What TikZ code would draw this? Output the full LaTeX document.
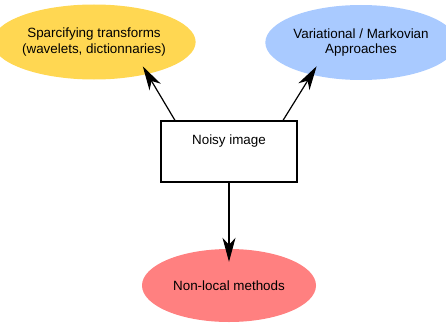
\documentclass[tikz,border=0pt]{standalone}
\usepackage{fontspec}
\setmainfont{Liberation Sans}
\usetikzlibrary{shapes.geometric,arrows.meta}
\definecolor{sparseyellow}{HTML}{FFD752}
\definecolor{variablue}{HTML}{A9CAFF}
\definecolor{nonlocred}{HTML}{FF8080}
\begin{document}
\begin{tikzpicture}[x=1pt,y=1pt,
  blob/.style={ellipse,inner sep=0pt,minimum height=75pt,align=center},
  arr/.style={-{Stealth[length=24pt,width=13pt,inset=7pt]},line width=1.2pt}]
\useasboundingbox (0,0) rectangle (446,322);
\fontsize{13.4}{15.7}\selectfont
% the three families of methods
\node[blob,fill=sparseyellow,minimum width=174pt] (sparse) at (94,280) {Sparcifying transforms\\(wavelets, dictionnaries)};
\node[blob,fill=variablue,minimum width=168pt] (varia) at (361,279.5) {Variational / Markovian\\Approaches};
\node[blob,fill=nonlocred,minimum width=174pt,minimum height=73pt] (nonloc) at (229,36.5) {Non-local methods};
% input
\node[draw,line width=1.2pt,minimum width=136pt,minimum height=61pt,inner sep=0pt] (noisy) at (229,170.5) {};
\node (noisylbl) at (229,181) {Noisy image};
% arrows
\draw[arr,shorten >=-9pt] ([xshift=-54pt]noisy.north) -- (sparse.-31);
\draw[arr,shorten >=-10pt] ([xshift=54pt]noisy.north) -- (varia.-147);
\draw[arr,shorten >=-13pt] (noisy.south) -- (nonloc.north);
\end{tikzpicture}
\end{document}
